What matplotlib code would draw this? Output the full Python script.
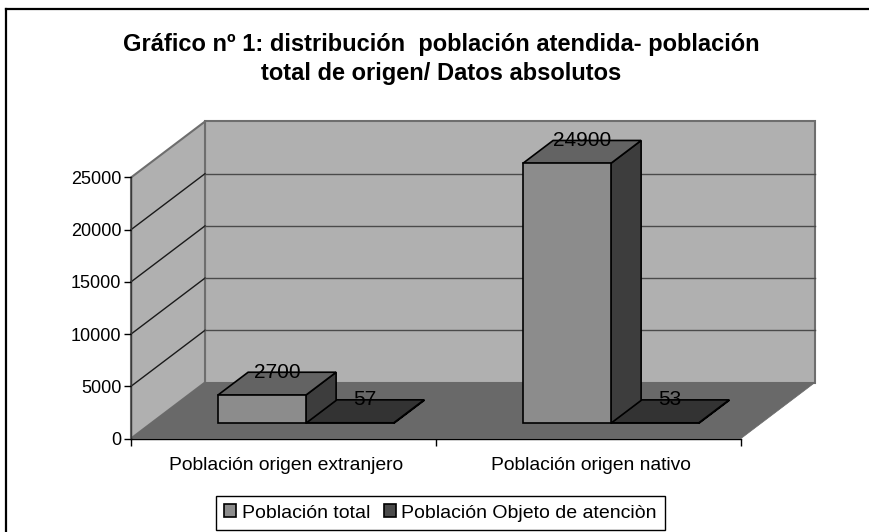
import matplotlib
matplotlib.use("Agg")
from matplotlib import pyplot as plt
from matplotlib.lines import Line2D
from matplotlib.patches import Patch, Polygon

categories = ["Población origen extranjero", "Población origen nativo"]
series_names = ["Población total", "Población Objeto de atenciòn"]
poblacion_total = [2700, 24900]
poblacion_objeto = [57, 53]
y_ticks = [0, 5000, 10000, 15000, 20000, 25000]
title = "Gráfico nº 1: distribución  población atendida- población\ntotal de origen/ Datos absolutos"

WALL = "#b0b0b0"
FLOOR = "#696969"
# front, top, side for each series
BAR_COLORS = [("#8c8c8c", "#636363", "#3d3d3d"), ("#4a4a4a", "#333333", "#262626")]

# oblique projection of the 3d box, in data units of the front plane
DEPTH_X = 74 / 305
DEPTH_Y = 56 / 261 * 25000
Y_MAX = 25000
BAR_WIDTH = 0.2885
BAR_START = 0.219
BAR_D0 = 0.27
BAR_D1 = 0.68


def proj(x, v, d):
    return x + d * DEPTH_X, v + d * DEPTH_Y


def face(ax, corners, color, edge="black", lw=1.2, z=2):
    pts = [proj(*c) for c in corners]
    ax.add_patch(Polygon(pts, closed=True, facecolor=color, edgecolor=edge, linewidth=lw,
                         zorder=z, clip_on=False, joinstyle="miter"))


def draw_bar(ax, x0, x1, v, colors, z):
    front, top, side = colors
    face(ax, [(x1, 0, BAR_D0), (x1, 0, BAR_D1), (x1, v, BAR_D1), (x1, v, BAR_D0)], side, z=z)
    face(ax, [(x0, v, BAR_D0), (x1, v, BAR_D0), (x1, v, BAR_D1), (x0, v, BAR_D1)], top, z=z)
    face(ax, [(x0, 0, BAR_D0), (x1, 0, BAR_D0), (x1, v, BAR_D0), (x0, v, BAR_D0)], front, z=z)


def main() -> None:
    plt.rcParams["font.family"] = ["Liberation Sans", "DejaVu Sans"]
    W, H = 869, 532
    fig = plt.figure(figsize=(W / 100, H / 100), dpi=100)
    ax = fig.add_axes([131 / W, (H - 438.5) / H, 610 / W, 261 / H])
    n = len(categories)
    ax.set_xlim(0, n)
    ax.set_ylim(0, Y_MAX)
    ax.patch.set_visible(False)
    for name in ["top", "right"]:
        ax.spines[name].set_visible(False)
    ax.spines["left"].set_visible(False)
    ax.spines["bottom"].set_linewidth(1.0)

    # walls and floor
    face(ax, [(0, 0, 1), (n, 0, 1), (n, Y_MAX, 1), (0, Y_MAX, 1)], WALL, edge="#6e6e6e", lw=1.5, z=0)
    face(ax, [(0, 0, 0), (0, 0, 1), (0, Y_MAX, 1), (0, Y_MAX, 0)], WALL, edge="#6e6e6e", lw=1.5, z=0)
    face(ax, [(0, 0, 0), (n, 0, 0), (n, 0, 1), (0, 0, 1)], FLOOR, edge=FLOOR, lw=0.5, z=0.5)

    for v in y_ticks[1:-1]:
        px, py = zip(proj(0, v, 0), proj(0, v, 1), proj(n, v, 1))
        ax.plot(px[:2], py[:2], color="#1a1a1a", lw=1.0, zorder=1, clip_on=False)
        ax.plot(px[1:], py[1:], color="#4a4a4a", lw=1.0, zorder=1, clip_on=False)
    ax.plot([0, 0], [0, Y_MAX], color="#3a3a3a", lw=1.0, zorder=1, clip_on=False)

    # bars back to front, left to right
    for i in range(n):
        start = i + BAR_START
        draw_bar(ax, start + BAR_WIDTH, start + 2 * BAR_WIDTH, poblacion_objeto[i], BAR_COLORS[1], 3)
        draw_bar(ax, start, start + BAR_WIDTH, poblacion_total[i], BAR_COLORS[0], 4)
        for j, vals in enumerate([poblacion_total, poblacion_objeto]):
            xc = start + (j + 0.5) * BAR_WIDTH
            lx, _ = proj(xc, vals[i], (BAR_D0 + BAR_D1) / 2)
            _, ly = proj(xc, vals[i], BAR_D1)
            ax.text(lx, ly, str(vals[i]), ha="center", va="center", fontsize=15, color="black",
                    zorder=6, clip_on=False)

    ax.set_yticks(y_ticks)
    ax.set_xticks(range(n + 1))
    ax.set_xticklabels([])
    ax.set_xticks([i + 0.507 for i in range(n)], minor=True)
    ax.set_xticklabels(categories, minor=True)
    ax.tick_params(axis="x", which="minor", length=0, labelsize=13.9, pad=13)
    ax.tick_params(axis="both", which="major", length=5, width=1.0, labelsize=13, pad=2)

    fig.text(441 / W, 1 - 59 / H, title, ha="center", va="center", fontsize=17, fontweight="bold",
             linespacing=1.32)

    handles = [Patch(facecolor=BAR_COLORS[0][0], edgecolor="black", linewidth=1.2),
               Patch(facecolor=BAR_COLORS[1][0], edgecolor="black", linewidth=1.2)]
    leg = fig.legend(handles, series_names, loc="center", bbox_to_anchor=(440.5 / W, 1 - 513 / H),
                     ncol=2, frameon=True, fancybox=False, fontsize=14, handlelength=0.62, handleheight=0.62,
                     handletextpad=0.28, columnspacing=0.7, borderpad=0.42, borderaxespad=0)
    leg.get_frame().set_edgecolor("black")
    leg.get_frame().set_linewidth(1.0)
    leg.get_frame().set_alpha(1)

    # chart area border, only left and top fall inside the picture
    fig.add_artist(Line2D([5.5 / W, 5.5 / W], [0, 1 - 9 / H], color="black", lw=1.6))
    fig.add_artist(Line2D([5.5 / W, 1], [1 - 9 / H, 1 - 9 / H], color="black", lw=1.6))

    fig.savefig("out.png", dpi=100)


if __name__ == '__main__':
    main()
